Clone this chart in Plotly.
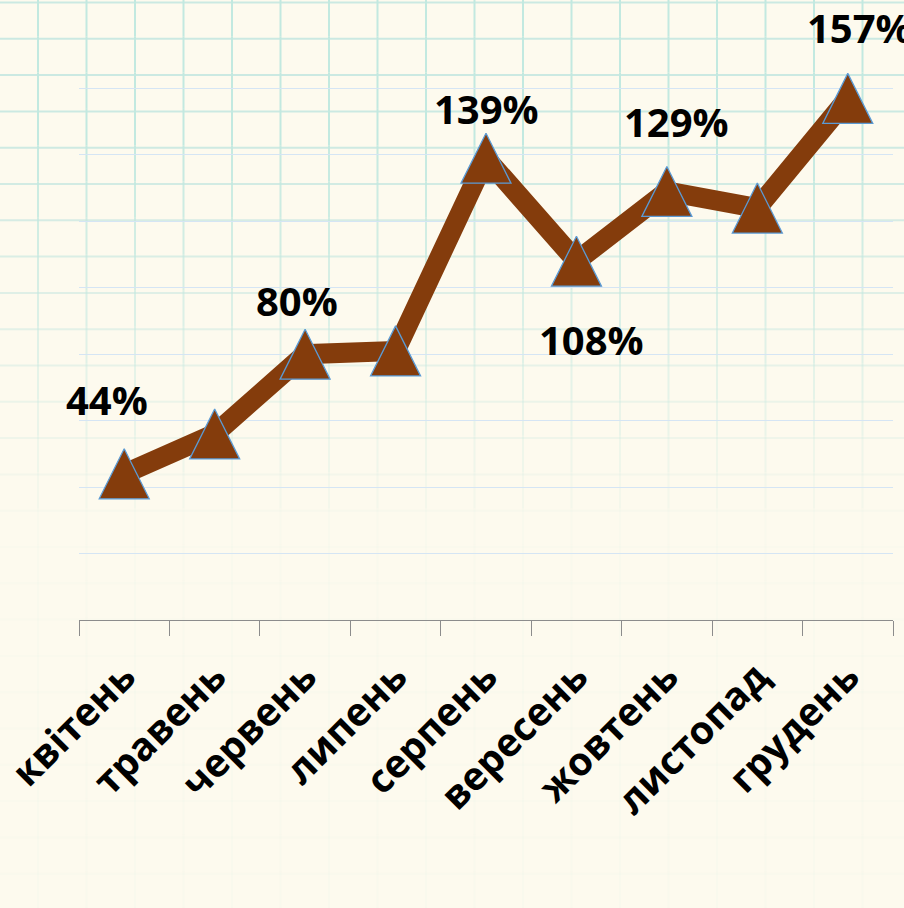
import plotly.graph_objects as go

# ---- data ----
months = ["квітень", "травень", "червень", "липень", "серпень",
          "вересень", "жовтень", "листопад", "грудень"]
values = [44, 56, 80, 81, 139, 108, 129, 124, 157]
labelled = [0, 2, 4, 5, 6, 8]          # points that carry a data label

# ---- label placement (pixels, style only) ----
label_dx = [-17, -8, 0, 15, 10, 12]
label_dy = [74, 54, 50, -78, 70, 71]

Y_MAX = 180
Y_STEP = 20

W, H = 904, 908
ML, MR, MT, MB = 79, 11, 22, 288
PLOT_W = W - ML - MR
PLOT_H = H - MT - MB

BROWN = "#843C0C"
BG = "#FDFAEE"
FONT = "Open Sans"

MARKER = 50
shift_units = (MARKER / 2) / PLOT_H * Y_MAX   # centre the arrow-shaped triangle on the point

fig = go.Figure()
fig.add_trace(go.Scatter(
    x=months, y=values, mode="lines",
    line=dict(color=BROWN, width=20),
    hoverinfo="skip", showlegend=False,
))
fig.add_trace(go.Scatter(
    x=months, y=values, mode="markers", yaxis="y2",
    marker=dict(symbol="arrow-up", size=MARKER, color=BROWN,
                line=dict(color="#5B9BD5", width=1.3)),
    showlegend=False,
))

for i, dx, dy in zip(labelled, label_dx, label_dy):
    fig.add_annotation(
        x=months[i], y=values[i], text=f"{values[i]}%",
        showarrow=False, xshift=dx, yshift=dy,
        xanchor="center", yanchor="middle",
        font=dict(family=FONT, size=40, color="black", weight="bold"),
    )

# ---- graph-paper background (decoration) ----
def px2x(px):
    return (px - ML) / PLOT_W

def py2y(py):
    return (H - MB - py) / PLOT_H

def fade(py):
    v = 1 - (py - 120) / 430
    return max(0.05, min(1.0, v))

shapes = []
h_step = 36.3
v_step = 48.5
hy = [2.5 + h_step * k for k in range(26) if 2.5 + h_step * k < H]
for py in hy:
    shapes.append(dict(type="line", xref="paper", yref="paper",
                       x0=px2x(0), x1=px2x(W), y0=py2y(py), y1=py2y(py),
                       line=dict(color="#CBE9E2", width=2), opacity=fade(py),
                       layer="below"))
vx = [38 + v_step * k for k in range(20) if 38 + v_step * k < W]
seg = 36.3
for px in vx:
    y = 0.0
    while y < H:
        shapes.append(dict(type="line", xref="paper", yref="paper",
                           x0=px2x(px), x1=px2x(px), y0=py2y(y), y1=py2y(min(H, y + seg)),
                           line=dict(color="#C2E9E0", width=2), opacity=fade(y + seg / 2),
                           layer="below"))
        y += seg

fig.update_layout(
    width=W, height=H,
    margin=dict(l=ML, r=MR, t=MT, b=MB, pad=0, autoexpand=False),
    paper_bgcolor=BG, plot_bgcolor="rgba(0,0,0,0)",
    shapes=shapes,
    showlegend=False,
    xaxis=dict(
        type="category", range=[-0.5, len(months) - 0.5],
        tickson="boundaries", ticks="outside", ticklen=15,
        tickcolor="#8C8C8C", tickwidth=1.3, showline=True, linecolor="#8C8C8C",
        linewidth=1.3, showgrid=False, tickangle=-45, automargin=False,
        ticklabelstandoff=17,
        tickfont=dict(family=FONT, size=39, color="black", weight="bold"),
    ),
    yaxis=dict(
        range=[0, Y_MAX], dtick=Y_STEP, showticklabels=False, ticks="",
        showgrid=True, gridcolor="#D5E5F4", gridwidth=1.3, zeroline=False,
        showline=False, automargin=False,
    ),
    yaxis2=dict(
        overlaying="y", range=[-shift_units, Y_MAX - shift_units],
        visible=False, showgrid=False, automargin=False,
    ),
)

fig.write_html(
    "out.html",
    config={"displayModeBar": False},
    post_script="document.body.style.margin='0px';"
                "document.body.style.background='" + BG + "';",
)
